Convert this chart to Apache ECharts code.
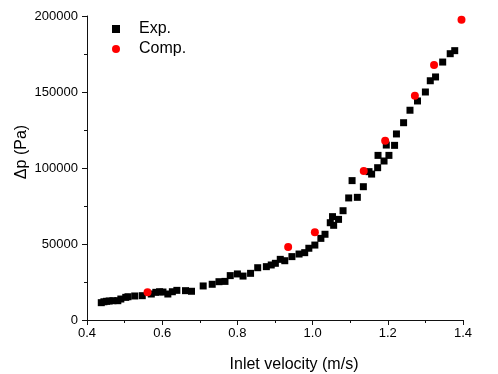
<!DOCTYPE html>
<html>
<head>
<meta charset="utf-8">
<script src="https://cdn.jsdelivr.net/npm/echarts@6/dist/echarts.min.js"></script>
<style>
  html, body { margin: 0; padding: 0; background: #fff; }
  #chart { width: 498px; height: 374px; }
</style>
</head>
<body>
<div id="chart"></div>
<script>
// measured points: [inlet velocity m/s, pressure drop Pa]
const expData = [
  [0.438, 11400], [0.445, 12000], [0.452, 12300], [0.459, 12500], [0.469, 12700],
  [0.482, 12700], [0.490, 13800], [0.503, 14900], [0.509, 15300], [0.527, 15800],
  [0.547, 16000], [0.571, 17100], [0.583, 18200], [0.593, 18600], [0.602, 18400],
  [0.615, 17100], [0.627, 18600], [0.639, 19500], [0.662, 19300], [0.678, 18900],
  [0.709, 22400], [0.733, 23500], [0.751, 25200], [0.767, 25400], [0.781, 29200],
  [0.800, 30300], [0.815, 28900], [0.835, 30700], [0.854, 34400], [0.877, 35100],
  [0.890, 36200], [0.901, 37300], [0.914, 39900], [0.926, 39000], [0.945, 41700],
  [0.964, 43400], [0.979, 44300], [0.990, 47200], [1.006, 49300], [1.022, 53700],
  [1.033, 56400], [1.047, 64000], [1.056, 62300], [1.053, 68000], [1.069, 66200],
  [1.081, 71900], [1.096, 80300], [1.119, 80700], [1.105, 91700], [1.135, 87700],
  [1.150, 97600], [1.157, 96000], [1.173, 100200], [1.190, 104600], [1.174, 108300],
  [1.203, 108300], [1.196, 115100], [1.218, 114900], [1.223, 122400], [1.242, 129800],
  [1.259, 138000], [1.279, 144100], [1.300, 150000], [1.313, 157400], [1.327, 159900],
  [1.346, 169700], [1.366, 175200], [1.378, 177200]
]
// computed points
const compData = [
  [0.561, 18200], [0.935, 48000], [1.006, 57700], [1.136, 98000],
  [1.193, 118000], [1.272, 147600], [1.323, 167800], [1.396, 197600]
]
const seriesNames = ['Exp.', 'Comp.']
const xRange = [0.4, 1.4]
const yRange = [0, 200000]

const FONT = '"Liberation Sans", Arial, sans-serif'
const chart = echarts.init(document.getElementById('chart'))

const axisCommon = {
  axisLine: { show: true, lineStyle: { color: '#111', width: 1 } },
  axisTick: { show: true, inside: false, length: 5, lineStyle: { color: '#111' } },
  minorTick: { show: true, splitNumber: 2, length: 3, lineStyle: { color: '#111' } },
  splitLine: { show: false },
  nameMoveOverlap: false,
}

chart.setOption({
  backgroundColor: '#fff',
  animation: false,
  textStyle: { fontFamily: FONT },
  // v6 squeezes the grid to keep names inside unless told not to
  grid: { left: 87, right: 35, top: 16, bottom: 54, containLabel: false, outerBoundsMode: 'none' },
  legend: {
    orient: 'vertical',
    left: 107,
    top: 16,
    itemWidth: 36,
    itemHeight: 8,
    itemGap: 4,
    textStyle: { color: '#000', fontSize: 16, fontFamily: FONT },
    data: [
      { name: seriesNames[0], icon: 'path://M0,0L1,0L1,1L0,1Z' },
      { name: seriesNames[1], icon: 'circle' },
    ],
  },
  xAxis: {
    type: 'value',
    min: xRange[0],
    max: xRange[1],
    interval: 0.2,
    ...axisCommon,
    axisLabel: {
      color: '#000', fontSize: 13, margin: 7, fontFamily: FONT,
      formatter: v => v.toFixed(1),
    },
    name: 'Inlet velocity (m/s)',
    nameLocation: 'middle',
    nameGap: 37,
    nameTextStyle: { color: '#000', fontSize: 16, fontFamily: FONT, padding: [0, 0, 0, 38] },
  },
  yAxis: {
    type: 'value',
    min: yRange[0],
    max: yRange[1],
    interval: 50000,
    ...axisCommon,
    axisLabel: { color: '#000', fontSize: 13, margin: 9, fontFamily: FONT, formatter: v => String(v) },
    name: 'Δp (Pa)',
    nameLocation: 'middle',
    nameGap: 57,
    nameTextStyle: { color: '#000', fontSize: 16, fontFamily: FONT, padding: [0, 0, 0, 32] },
  },
  series: [
    {
      name: seriesNames[0],
      type: 'scatter',
      symbol: 'rect',
      symbolSize: 7,
      itemStyle: { color: '#000', opacity: 1 },
      data: expData,
      silent: true,
    },
    {
      name: seriesNames[1],
      type: 'scatter',
      symbol: 'circle',
      symbolSize: 8,
      itemStyle: { color: '#ff0000', opacity: 1 },
      data: compData,
      silent: true,
      z: 3,
    },
  ],
})
</script>
</body>
</html>
